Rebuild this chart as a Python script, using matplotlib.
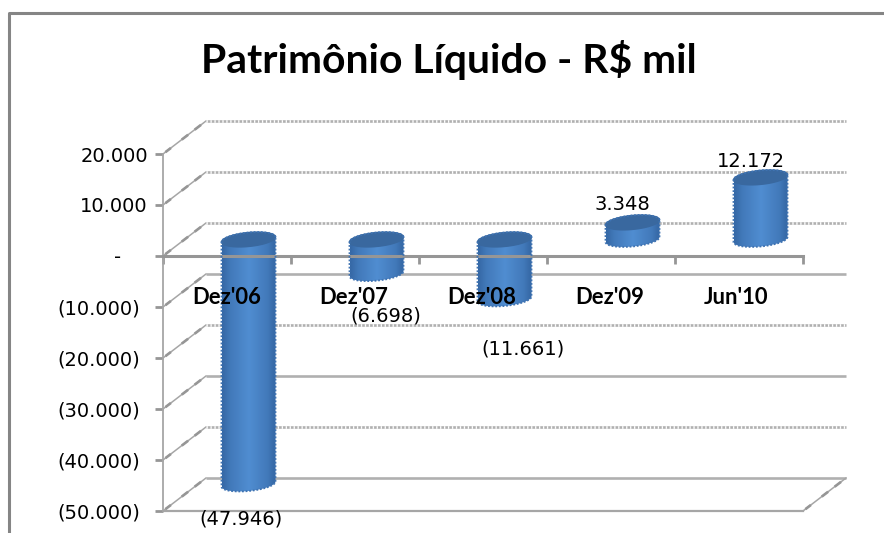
#!/usr/bin/env python3

## plot.py - Patrimonio Liquido, fake 3D cylinder chart
import matplotlib
matplotlib.use('Agg')
import matplotlib.pyplot as plt
import numpy as np
from matplotlib.patches import PathPatch
from matplotlib.path import Path

## Data
CATEGORIES = ["Dez'06", "Dez'07", "Dez'08", "Dez'09", "Jun'10"]
VALUES     = [-47946, -6698, -11661, 3348, 12172]
LABELS     = ['(47.946)', '(6.698)', '(11.661)', '3.348', '12.172']
Y_TICKS    = [20000, 10000, 0, -10000, -20000, -30000, -40000, -50000]
Y_LABELS   = ['20.000', '10.000', '-', '(10.000)', '(20.000)', '(30.000)', '(40.000)', '(50.000)']

## Layout, pixels of the 884x533 figure
W, H = 884, 533
LEFT, RIGHT, TOP, BOTTOM = 163, 803, 154, 511
DEPTH_PX = (43, 33)                       # offset of the back wall
Y_LABEL_RIGHT = [148, 148, 121, 140, 140, 140, 140, 140]   # accounting format, not aligned
GREY = '#969696'
LINE = '#a6a6a6'

fig = plt.figure(figsize=(W / 100, H / 100), dpi=100)
ax = fig.add_axes([LEFT / W, 1 - BOTTOM / H, (RIGHT - LEFT) / W, (BOTTOM - TOP) / H])
ax.set_xlim(0, len(CATEGORIES))
ax.set_ylim(Y_TICKS[-1], Y_TICKS[0])
ax.patch.set_alpha(0)

DX = DEPTH_PX[0] * len(CATEGORIES) / (RIGHT - LEFT)
DY = DEPTH_PX[1] * (Y_TICKS[0] - Y_TICKS[-1]) / (BOTTOM - TOP)
PX_X = len(CATEGORIES) / (RIGHT - LEFT)   # data units per pixel
PX_Y = (Y_TICKS[0] - Y_TICKS[-1]) / (BOTTOM - TOP)


def project(x, value, depth):
    return x + depth * DX, value + depth * DY


## diagonal wall edge with the small blobs the original shows
def draw_diagonal(x, tick):
    x0, y0 = project(x, tick, 0)
    x1, y1 = project(x, tick, 1)
    ax.plot([x0, x1], [y0, y1], color=LINE, lw=1.1, clip_on=False, zorder=1)
    for a, b in [(0.08, 0.16), (0.46, 0.56), (0.76, 0.86)]:
        ax.plot([x0 + a * (x1 - x0), x0 + b * (x1 - x0)], [y0 + a * (y1 - y0), y0 + b * (y1 - y0)],
                color=GREY, lw=1.9, clip_on=False, zorder=1)


## walls and gridlines
def draw_walls():
    for tick in Y_TICKS:
        draw_diagonal(0, tick)
        x1, y1 = project(0, tick, 1)
        x2, y2 = project(len(CATEGORIES), tick, 1)
        solid = tick in (-50000, -30000, -10000)
        ax.plot([x1, x2], [y1, y2], color='#b0b0b0', lw=1.9, clip_on=False, zorder=1,
                solid_capstyle='butt')
        if not solid:
            ax.plot([x1, x2], [y1, y2], color='white', lw=1.9, ls=(0, (0.5, 1.0)),
                    clip_on=False, zorder=1.1)
    draw_diagonal(len(CATEGORIES), Y_TICKS[-1])
    ax.plot([0, len(CATEGORIES)], [Y_TICKS[-1], Y_TICKS[-1]], color=LINE, lw=1.6,
            clip_on=False, zorder=1)


## one cylinder with a left-right shading, ellipses lean up to the right
def draw_cylinder(pos, value):
    cx, c_top = project(pos + 0.5, max(value, 0), 0.5)
    _, c_bot = project(pos + 0.5, min(value, 0), 0.5)
    rx = 27 * PX_X
    ry = 7 * PX_Y
    tilt = 2.5 * PX_Y
    t = np.linspace(0, np.pi, 40)
    top_x = cx + rx * np.cos(t)
    top_y = c_top + ry * np.sin(t) + tilt * np.cos(t)
    bot_x = cx - rx * np.cos(t)
    bot_y = c_bot - ry * np.sin(t) - tilt * np.cos(t)

    body = np.column_stack([np.r_[top_x, bot_x], np.r_[top_y, bot_y]])
    margin = ry + tilt + 2 * PX_Y
    x_edges = [cx - rx, cx + rx]
    y_edges = [c_bot - margin, c_top + margin]

    shade = np.interp(np.linspace(0, 1, 60), [0, 0.15, 0.5, 0.85, 1], [0.05, 0.5, 1, 0.5, 0])
    dark = np.array([0x34, 0x66, 0xa3]) / 255
    light = np.array([0x50, 0x8d, 0xd1]) / 255
    grad = dark + (light - dark) * shade[:, None]
    im = ax.imshow(grad[None, :, :], extent=[x_edges[0], x_edges[1], y_edges[0], y_edges[1]],
                   aspect='auto', zorder=3, interpolation='bilinear')
    im.set_clip_path(PathPatch(Path(np.r_[body, body[:1]]), transform=ax.transData))

    ell = np.linspace(0, 2 * np.pi, 80)
    ell_x = cx + rx * np.cos(ell)
    ell_y = c_top + ry * np.sin(ell) + tilt * np.cos(ell)
    ax.fill(ell_x, ell_y, color='#39689f', zorder=4, clip_on=False)
    # jagged look of the edges in the original bitmap
    ax.plot(np.r_[top_x, bot_x, top_x[:1]], np.r_[top_y, bot_y, top_y[:1]], color='#3f73b2',
            lw=1.3, ls=(0, (1, 1)), zorder=4, clip_on=False)


def main():
    draw_walls()
    for i, value in enumerate(VALUES):
        draw_cylinder(i, value)
    ax.set_xlim(0, len(CATEGORIES))
    ax.set_ylim(Y_TICKS[-1], Y_TICKS[0])

    # axes
    for name in ('top', 'right'):
        ax.spines[name].set_visible(False)
    ax.spines['left'].set_color(LINE)
    ax.spines['left'].set_linewidth(1.3)
    ax.spines['bottom'].set_position(('data', 0))
    ax.spines['bottom'].set_color(GREY)
    ax.spines['bottom'].set_linewidth(2.2)
    ax.spines['bottom'].set_zorder(3.5)
    ax.set_yticks(Y_TICKS, [''] * len(Y_TICKS))
    ax.tick_params(axis='y', color=GREY, width=2, length=6)
    ax.set_xticks(range(len(CATEGORIES) + 1), [''] * (len(CATEGORIES) + 1))
    ax.tick_params(axis='x', color=GREY, width=2, length=6)

    # y labels by hand, the original has three different right edges
    for tick, text, right in zip(Y_TICKS, Y_LABELS, Y_LABEL_RIGHT):
        ax.annotate(text, (0, tick), xytext=(right - LEFT, -2), textcoords='offset pixels',
                    ha='right', va='center', fontsize=14, family='DejaVu Sans',
                    annotation_clip=False)

    # category names sit under the axis, not at the tick
    for name, px in zip(CATEGORIES, [227, 354, 482, 610, 736]):
        fig.text(px / W, 1 - 297 / H, name, ha='center', va='center', fontsize=15.8,
                 fontweight='bold', family='Lato', zorder=6)

    # data labels
    label_pos = [(241, 519), (386, 316), (523, 349), (622, 204), (751, 161)]
    for text, (px, py) in zip(LABELS, label_pos):
        fig.text(px / W, 1 - py / H, text, ha='center', va='center', fontsize=14,
                 family='DejaVu Sans', zorder=7)

    fig.text(449 / W, 1 - 60 / H, 'Patrimônio Líquido - R$ mil', ha='center', va='center',
             fontsize=29.4, fontweight='bold', family='Lato')

    # chart area border
    fig.add_artist(plt.Line2D([8.5 / W, 8.5 / W, 884 / W], [0, 1 - 12.5 / H, 1 - 12.5 / H],
                              color='#858585', lw=2.2))

    fig.savefig('out.png', dpi=100)


if __name__ == '__main__':
    main()
